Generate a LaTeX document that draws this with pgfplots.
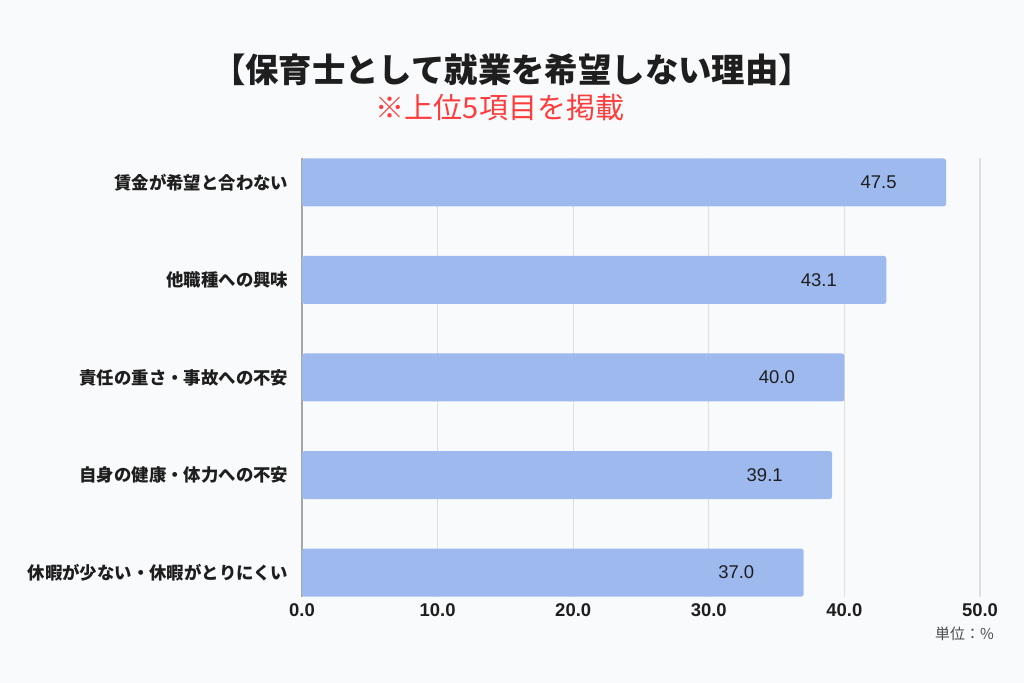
\documentclass[border=0pt]{standalone}
\usepackage{pgfplots}
\pgfplotsset{compat=1.18}
\usepackage{fontspec}
\setmainfont{Liberation Sans}
\newfontfamily\jp{Noto Sans CJK JP}

\definecolor{bg}{RGB}{249,250,252}
\definecolor{barblue}{RGB}{157,185,238}
\definecolor{txt}{RGB}{30,30,30}
\definecolor{subred}{RGB}{255,60,60}

\begin{document}
\begin{tikzpicture}
  % page background, 1px = 0.02cm
  \fill[bg] (0,0) rectangle (20.48cm,13.66cm);

  \node[font=\jp\bfseries\fontsize{19}{21}\selectfont, text=txt] at (10.24cm,12.26cm)
    {【保育士として就業を希望しない理由】};
  \node[font=\jp\fontsize{16.5}{18}\selectfont, text=subred] at (10.0cm,11.5cm)
    {※上位5項目を掲載};

  \begin{axis}[
    at={(6.04cm,1.72cm)}, anchor=south west,
    scale only axis, width=13.56cm, height=8.78cm,
    xbar, bar width=0.96cm,
    xmin=0, xmax=50, ymin=-0.25, ymax=4.25,
    xtick={0,10,...,50},
    ytick={0,1,2,3,4},
    yticklabels={休暇が少ない・休暇がとりにくい, 自身の健康・体力への不安, 責任の重さ・事故への不安, 他職種への興味, 賃金が希望と合わない},
    major tick length=0pt,
    axis x line*=bottom, axis y line*=left,
    x axis line style={draw=none},
    y axis line style={draw=gray!70, line width=0.6pt},
    xmajorgrids, grid style={draw=gray!25, line width=0.6pt},
    xticklabel style={font=\bfseries\fontsize{10.5}{12}\selectfont, text=txt, yshift=0pt},
    yticklabel style={font=\jp\bfseries\fontsize{9.9}{11}\selectfont, text=txt, xshift=-0.15cm},
    /pgf/number format/.cd, fixed, fixed zerofill, precision=1, assume math mode=true,
    /pgfplots/.cd,
    point meta=x,
    nodes near coords,
    nodes near coords style={font=\fontsize{10.5}{12}\selectfont, text=txt, anchor=center, xshift=-1.35cm,
      /pgf/number format/.cd, fixed, fixed zerofill, precision=1, assume math mode=true},
  ]
    \addplot[fill=barblue, draw=none, rounded corners=1.5pt]
      coordinates {(37.0,0) (39.1,1) (40.0,2) (43.1,3) (47.5,4)};
  \end{axis}

  \node[font=\jp\fontsize{8.5}{9}\selectfont, text=txt!80, anchor=east] at (20.0cm,0.98cm) {単位：\%};
\end{tikzpicture}
\end{document}
